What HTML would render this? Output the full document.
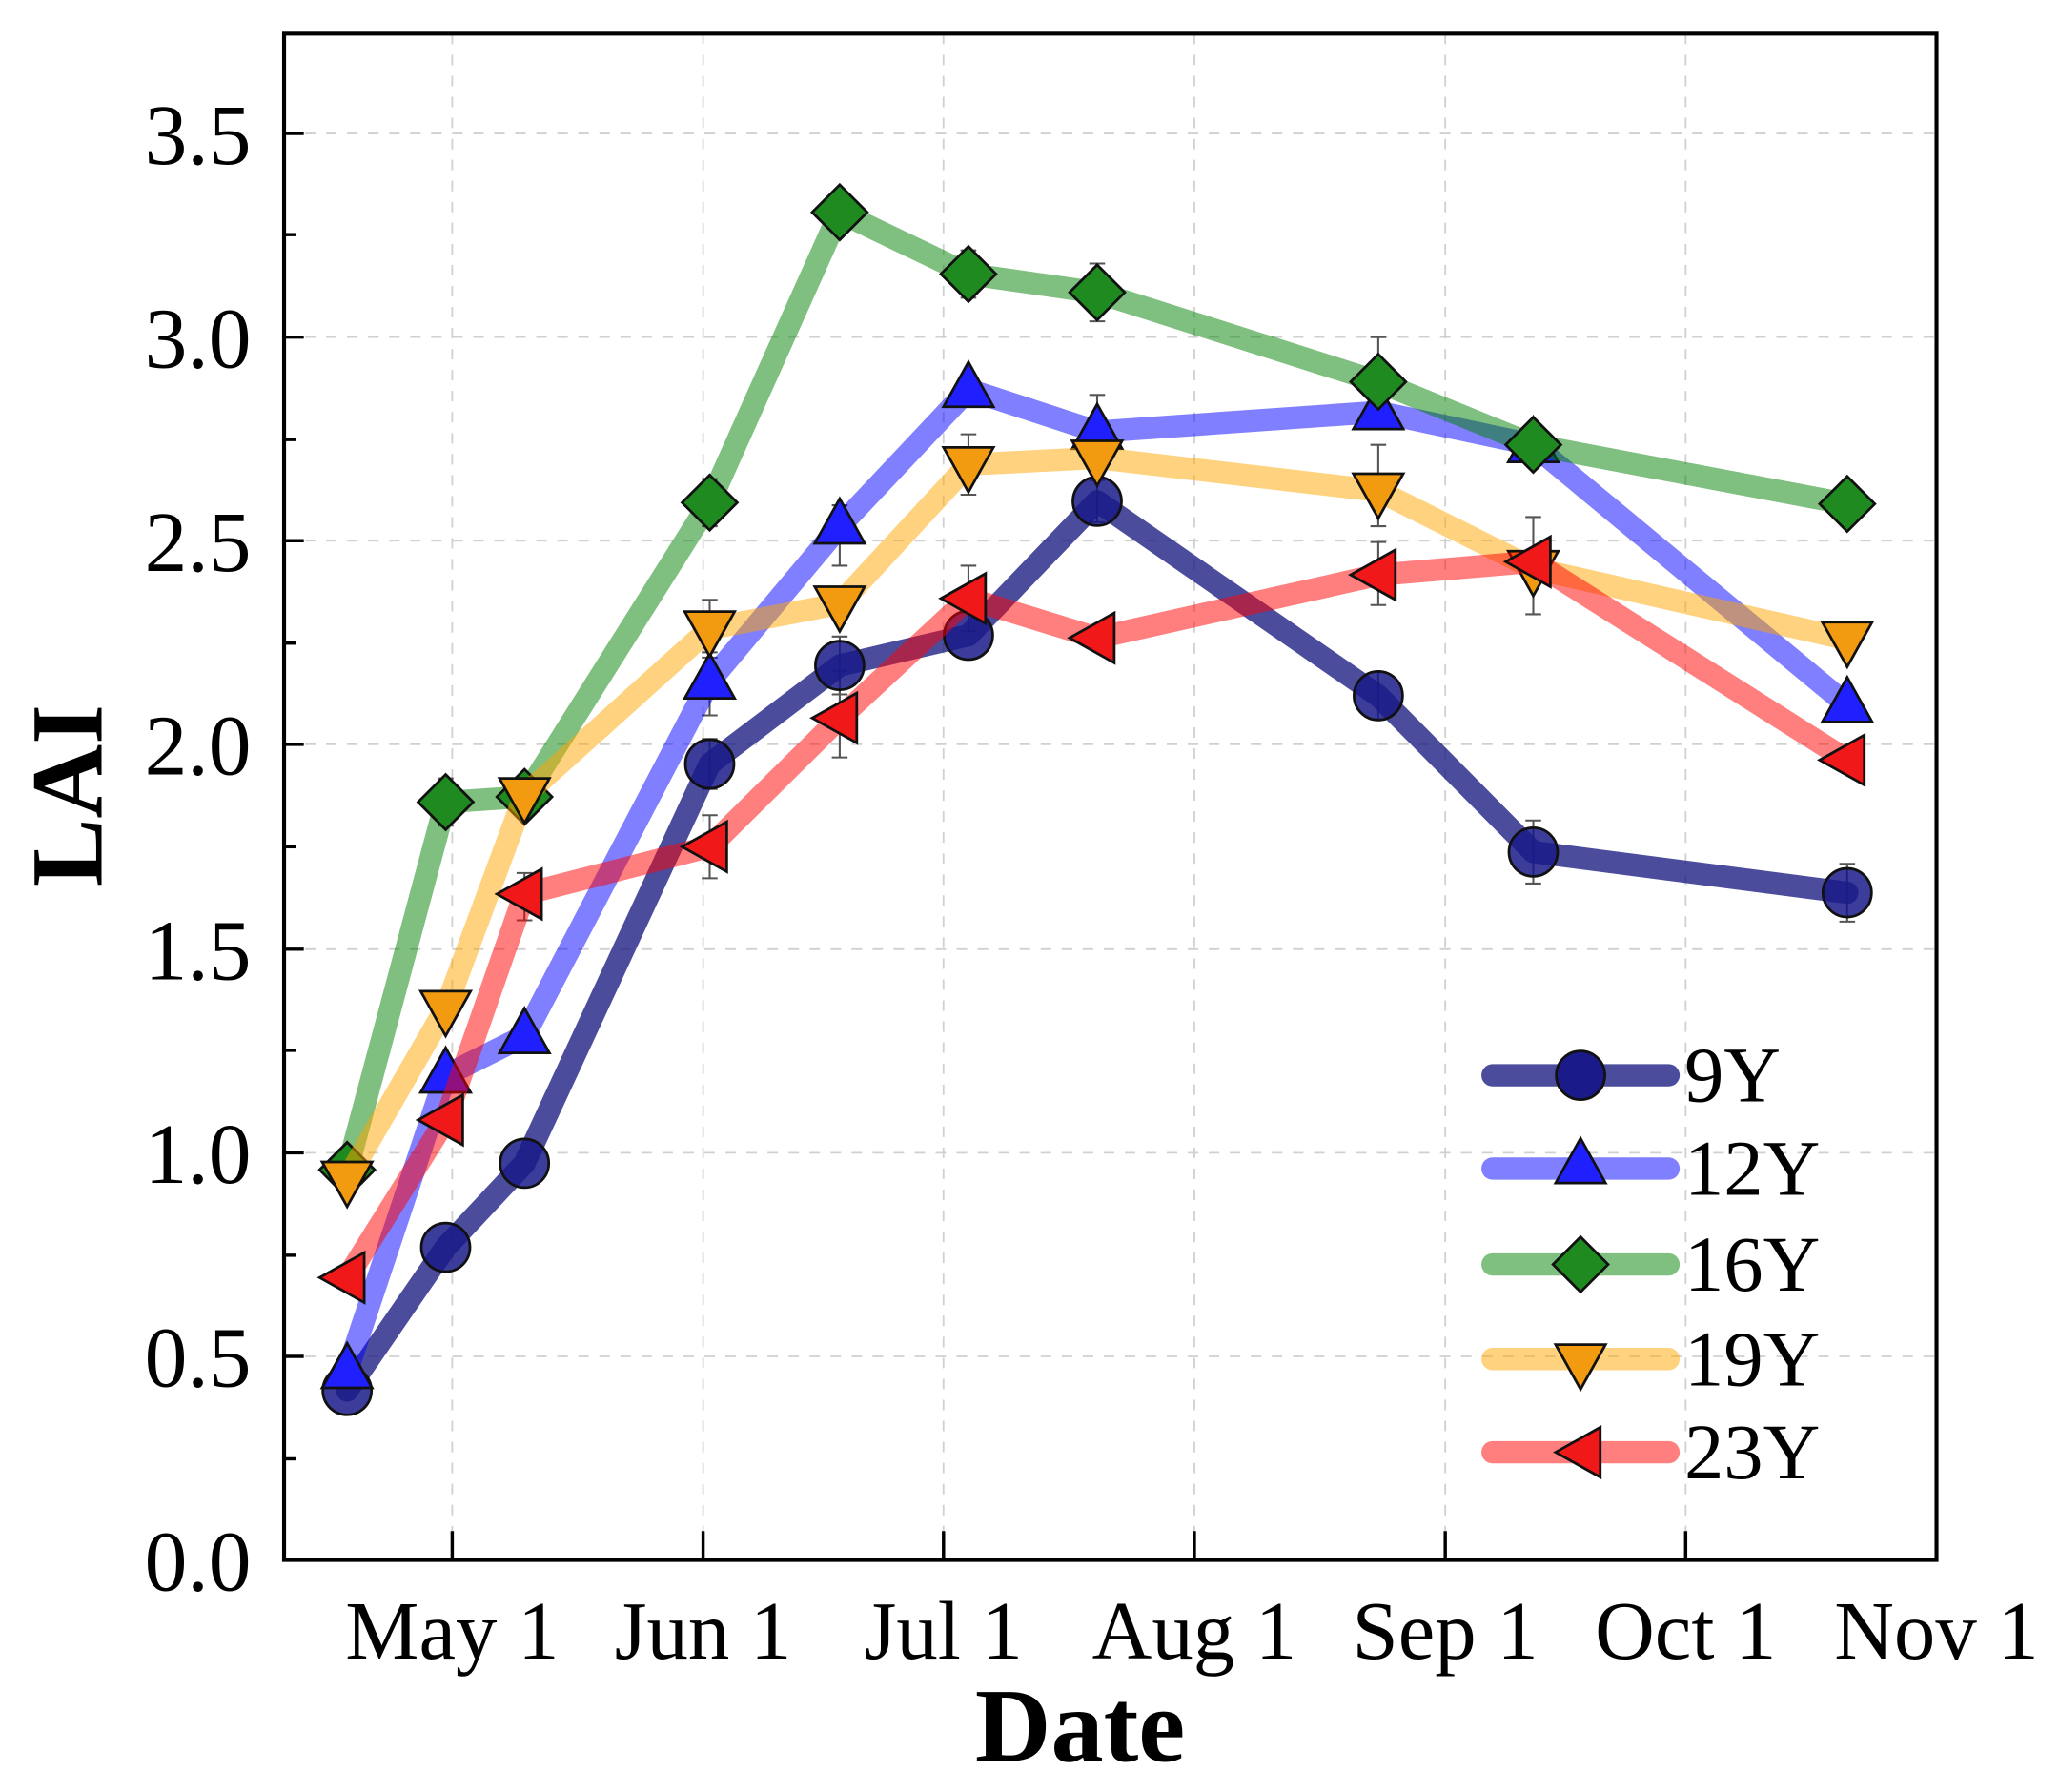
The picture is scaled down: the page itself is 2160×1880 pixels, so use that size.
<!DOCTYPE html>
<html><head><meta charset="utf-8"><style>html,body{margin:0;padding:0;background:#fff}svg{display:block}</style></head>
<body>
<svg width="2160" height="1880" viewBox="0.73 -0.65 1567.5 1364.3" preserveAspectRatio="none" xmlns="http://www.w3.org/2000/svg" font-family="Liberation Serif, serif">
<defs>
<g id="circ"><circle r="18.5" stroke="#111" stroke-width="2"/></g>
<g id="up"><path d="M0,-21 L19,13 L-19,13 Z" stroke="#111" stroke-width="2"/></g>
<g id="dia"><path d="M0,-21 L21,0 L0,21 L-21,0 Z" stroke="#111" stroke-width="2"/></g>
<g id="dn"><path d="M0,21 L19,-13 L-19,-13 Z" stroke="#111" stroke-width="2"/></g>
<g id="lt"><path d="M-21,0 L13,-19 L13,19 Z" stroke="#111" stroke-width="2"/></g>
</defs>
<g stroke="#d0d0d0" stroke-width="1.3" stroke-dasharray="8,8">
<line x1="217" x2="1475" y1="1032" y2="1032"/><line x1="217" x2="1475" y1="877" y2="877"/><line x1="217" x2="1475" y1="722" y2="722"/><line x1="217" x2="1475" y1="566" y2="566"/><line x1="217" x2="1475" y1="411" y2="411"/><line x1="217" x2="1475" y1="256" y2="256"/><line x1="217" x2="1475" y1="101" y2="101"/>
<line x1="345" x2="345" y1="25" y2="1187"/><line x1="536" x2="536" y1="25" y2="1187"/><line x1="719" x2="719" y1="25" y2="1187"/><line x1="910" x2="910" y1="25" y2="1187"/><line x1="1101" x2="1101" y1="25" y2="1187"/><line x1="1284" x2="1284" y1="25" y2="1187"/>
</g>
<!-- error bars -->
<g stroke="#555" stroke-width="1.5" fill="none">
<path d="M541,562v38M535,562h12M535,600h12"/>
<path d="M640,484v44M634,484h12M634,528h12"/>
<path d="M836,365v32M830,365h12M830,397h12"/>
<path d="M1050,511v36M1044,511h12M1044,547h12"/>
<path d="M1168,624v48M1162,624h12M1162,672h12"/>
<path d="M1407,657v44M1401,657h12M1401,701h12"/>
<path d="M340,592v36M334,592h12M334,628h12"/>
<path d="M541,364v36M535,364h12M535,400h12"/>
<path d="M738,190v36M732,190h12M732,226h12"/>
<path d="M836,200v44M830,200h12M830,244h12"/>
<path d="M1050,256v68M1044,256h12M1044,324h12"/>
<path d="M541,456v44M535,456h12M535,500h12"/>
<path d="M738,330v46M732,330h12M732,376h12"/>
<path d="M836,300v58M830,300h12M830,358h12"/>
<path d="M1050,338v62M1044,338h12M1044,400h12"/>
<path d="M1168,393v74M1162,393h12M1162,467h12"/>
<path d="M541,620v48M535,620h12M535,668h12"/>
<path d="M640,510v66M634,510h12M634,576h12"/>
<path d="M738,430v50M732,430h12M732,480h12"/>
<path d="M1050,412v48M1044,412h12M1044,460h12"/>
<path d="M640,384v46M634,384h12M634,430h12"/>
<path d="M541,496v48M535,496h12M535,544h12"/>
<path d="M400,664v36M394,664h12M394,700h12"/>
</g>
<polyline fill="none" stroke-linejoin="round" stroke-linecap="round" stroke-width="17" stroke="#1a1a80" stroke-opacity="0.78" points="265,1058 340,949 400,885 541,581 640,506 738,483 836,381 1050,529 1168,648 1407,679"/>
<g fill="#1a1a8a" fill-opacity="0.85"><use href="#circ" x="265" y="1058"/><use href="#circ" x="340" y="949"/><use href="#circ" x="400" y="885"/><use href="#circ" x="541" y="581"/><use href="#circ" x="640" y="506"/><use href="#circ" x="738" y="483"/><use href="#circ" x="836" y="381"/><use href="#circ" x="1050" y="529"/><use href="#circ" x="1168" y="648"/><use href="#circ" x="1407" y="679"/></g>
<polyline fill="none" stroke-linejoin="round" stroke-width="17" stroke="#0000ff" stroke-opacity="0.5" points="265,1043 340,818 400,788 541,518 640,400 738,296 836,328 1050,313 1168,338 1407,536"/>
<g fill="#2020ff"><use href="#up" x="265" y="1043"/><use href="#up" x="340" y="818"/><use href="#up" x="400" y="788"/><use href="#up" x="541" y="518"/><use href="#up" x="640" y="400"/><use href="#up" x="738" y="296"/><use href="#up" x="836" y="328"/><use href="#up" x="1050" y="313"/><use href="#up" x="1168" y="338"/><use href="#up" x="1407" y="536"/></g>
<polyline fill="none" stroke-linejoin="round" stroke-width="17" stroke="#008000" stroke-opacity="0.5" points="265,890 340,610 400,606 541,382 640,161 738,208 836,222 1050,290 1168,338 1407,383"/>
<g fill="#1f8a1f"><use href="#dia" x="265" y="890"/><use href="#dia" x="340" y="610"/><use href="#dia" x="400" y="606"/><use href="#dia" x="541" y="382"/><use href="#dia" x="640" y="161"/><use href="#dia" x="738" y="208"/><use href="#dia" x="836" y="222"/><use href="#dia" x="1050" y="290"/><use href="#dia" x="1168" y="338"/><use href="#dia" x="1407" y="383"/></g>
<polyline fill="none" stroke-linejoin="round" stroke-width="17" stroke="#ffa500" stroke-opacity="0.5" points="265,897 340,767 400,605 541,478 640,459 738,353 836,348 1050,373 1168,432 1407,486"/>
<g fill="#f29a10"><use href="#dn" x="265" y="897"/><use href="#dn" x="340" y="767"/><use href="#dn" x="400" y="605"/><use href="#dn" x="541" y="478"/><use href="#dn" x="640" y="459"/><use href="#dn" x="738" y="353"/><use href="#dn" x="836" y="348"/><use href="#dn" x="1050" y="373"/><use href="#dn" x="1168" y="432"/><use href="#dn" x="1407" y="486"/></g>
<polyline fill="none" stroke-linejoin="round" stroke-width="17" stroke="#ff0000" stroke-opacity="0.5" points="265,972 340,852 400,680 541,644 640,546 738,455 836,485 1050,437 1168,427 1407,578"/>
<g fill="#f01818"><use href="#lt" x="265" y="972"/><use href="#lt" x="340" y="852"/><use href="#lt" x="400" y="680"/><use href="#lt" x="541" y="644"/><use href="#lt" x="640" y="546"/><use href="#lt" x="738" y="455"/><use href="#lt" x="836" y="485"/><use href="#lt" x="1050" y="437"/><use href="#lt" x="1168" y="427"/><use href="#lt" x="1407" y="578"/></g>
<g stroke-linecap="round" stroke-width="17" fill="none">
<line x1="1137" x2="1271" y1="818" y2="818" stroke="#1a1a80" stroke-opacity="0.78"/>
<line x1="1137" x2="1271" y1="889" y2="889" stroke="#0000ff" stroke-opacity="0.5"/>
<line x1="1137" x2="1271" y1="962" y2="962" stroke="#008000" stroke-opacity="0.5"/>
<line x1="1137" x2="1271" y1="1034" y2="1034" stroke="#ffa500" stroke-opacity="0.5"/>
<line x1="1137" x2="1271" y1="1105" y2="1105" stroke="#ff0000" stroke-opacity="0.5"/>
</g>
<use href="#circ" x="1204" y="818" fill="#1a1a8a"/>
<use href="#up" x="1204" y="887" fill="#2020ff"/>
<use href="#dia" x="1204" y="962" fill="#1f8a1f"/>
<use href="#dn" x="1204" y="1036" fill="#f29a10"/>
<use href="#lt" x="1206" y="1105" fill="#f01818"/>
<g font-size="60" fill="#000">
<text x="1283" y="838">9Y</text><text x="1283" y="909">12Y</text><text x="1283" y="982">16Y</text><text x="1283" y="1054">19Y</text><text x="1283" y="1125">23Y</text>
</g>
<rect x="217" y="25" width="1258" height="1162" fill="none" stroke="#000" stroke-width="3"/>
<g stroke="#000" stroke-width="2.5">
<line x1="217" x2="232" y1="1032" y2="1032"/><line x1="217" x2="232" y1="877" y2="877"/><line x1="217" x2="232" y1="722" y2="722"/><line x1="217" x2="232" y1="566" y2="566"/><line x1="217" x2="232" y1="411" y2="411"/><line x1="217" x2="232" y1="256" y2="256"/><line x1="217" x2="232" y1="101" y2="101"/>
<line x1="217" x2="226" y1="1110" y2="1110"/><line x1="217" x2="226" y1="955" y2="955"/><line x1="217" x2="226" y1="799" y2="799"/><line x1="217" x2="226" y1="644" y2="644"/><line x1="217" x2="226" y1="489" y2="489"/><line x1="217" x2="226" y1="334" y2="334"/><line x1="217" x2="226" y1="178" y2="178"/>
<line x1="345" x2="345" y1="1187" y2="1165"/><line x1="536" x2="536" y1="1187" y2="1165"/><line x1="719" x2="719" y1="1187" y2="1165"/><line x1="910" x2="910" y1="1187" y2="1165"/><line x1="1101" x2="1101" y1="1187" y2="1165"/><line x1="1284" x2="1284" y1="1187" y2="1165"/>
</g>
<g font-size="65" text-anchor="end">
<text x="192" y="1210">0.0</text><text x="192" y="1055">0.5</text><text x="192" y="900">1.0</text><text x="192" y="745">1.5</text><text x="192" y="589">2.0</text><text x="192" y="434">2.5</text><text x="192" y="279">3.0</text><text x="192" y="124">3.5</text>
</g>
<g font-size="63" text-anchor="middle">
<text x="345" y="1262">May 1</text><text x="536" y="1262">Jun 1</text><text x="719" y="1262">Jul 1</text><text x="910" y="1262">Aug 1</text><text x="1101" y="1262">Sep 1</text><text x="1284" y="1262">Oct 1</text><text x="1475" y="1262">Nov 1</text>
</g>
<text x="823" y="1340" font-size="80" font-weight="bold" text-anchor="middle">Date</text>
<text transform="translate(78,605) rotate(-90)" font-size="78" font-weight="bold" text-anchor="middle">LAI</text>
</svg>
</body></html>
